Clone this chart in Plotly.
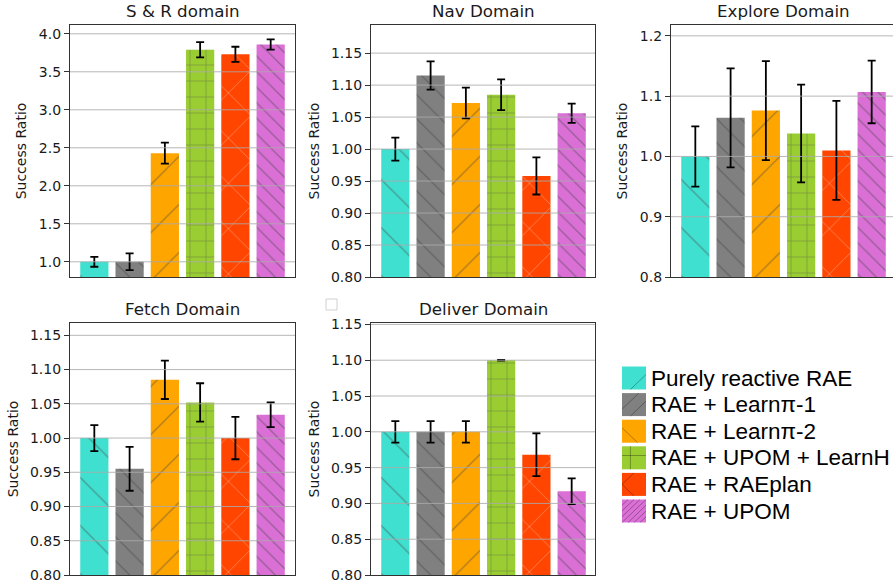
import plotly.graph_objects as go

# ---------------- data ----------------
methods = ["Purely reactive RAE", "RAE + Learnπ-1", "RAE + Learnπ-2",
           "RAE + UPOM + LearnH", "RAE + RAEplan", "RAE + UPOM"]
x_pos = [0, 1, 2, 3, 4, 5]

domain_titles = ["S & R domain", "Nav Domain", "Explore Domain",
                 "Fetch Domain", "Deliver Domain"]

sr_mean = [1.0, 1.0, 2.43, 3.79, 3.73, 3.86]
sr_err = [0.065, 0.11, 0.138, 0.10, 0.10, 0.067]

nav_mean = [1.0, 1.115, 1.072, 1.085, 0.958, 1.056]
nav_err = [0.018, 0.022, 0.024, 0.024, 0.029, 0.015]

explore_mean = [1.0, 1.064, 1.076, 1.038, 1.010, 1.107]
explore_err = [0.050, 0.082, 0.082, 0.081, 0.082, 0.052]

fetch_mean = [1.0, 0.955, 1.085, 1.052, 1.0, 1.034]
fetch_err = [0.019, 0.032, 0.028, 0.028, 0.031, 0.018]

deliver_mean = [1.0, 1.0, 1.0, 1.10, 0.968, 0.917]
deliver_err = [0.015, 0.015, 0.015, 0.0005, 0.030, 0.018]

sr_ticks = [1.0, 1.5, 2.0, 2.5, 3.0, 3.5, 4.0]
sr_ticklabels = ["1.0", "1.5", "2.0", "2.5", "3.0", "3.5", "4.0"]
fine_ticks = [0.80, 0.85, 0.90, 0.95, 1.00, 1.05, 1.10, 1.15]
fine_ticklabels = ["0.80", "0.85", "0.90", "0.95", "1.00", "1.05", "1.10", "1.15"]
explore_ticks = [0.8, 0.9, 1.0, 1.1, 1.2]
explore_ticklabels = ["0.8", "0.9", "1.0", "1.1", "1.2"]

# ---------------- styles ----------------
colors = ["#40E0D0", "#808080", "#FFA500", "#9ACD32", "#FF4500", "#DA70D6"]
hatches = ["\\", "\\", "/", "+", "x", "\\"]
hatch_sizes = [34, 17, 34, 16, 32, 11]

W, H = 893, 586


def px(x):
    return x / W


def py(y):
    return 1 - y / H


panels = [
    dict(mean=sr_mean, err=sr_err, ticks=sr_ticks, labels=sr_ticklabels,
         yr=[0.8, 4.116], cols=(70, 295), rows=(25, 277), title_cx=182.5),
    dict(mean=nav_mean, err=nav_err, ticks=fine_ticks, labels=fine_ticklabels,
         yr=[0.8, 1.194], cols=(371, 595), rows=(25, 277), title_cx=483),
    dict(mean=explore_mean, err=explore_err, ticks=explore_ticks,
         labels=explore_ticklabels, yr=[0.8, 1.218], cols=(671, 893),
         rows=(25, 277), title_cx=783.5),
    dict(mean=fetch_mean, err=fetch_err, ticks=fine_ticks, labels=fine_ticklabels,
         yr=[0.8, 1.168], cols=(70, 295), rows=(323, 575), title_cx=182.5),
    dict(mean=deliver_mean, err=deliver_err, ticks=fine_ticks,
         labels=fine_ticklabels, yr=[0.8, 1.152], cols=(371, 595),
         rows=(323, 575), title_cx=483),
]

unit_px = 225 / 6.38  # pixels per category unit

fig = go.Figure()
shapes = []
annotations = []
layout_axes = {}

for k, p in enumerate(panels):
    idx = "" if k == 0 else str(k + 1)
    xname, yname = "x" + idx, "y" + idx
    solid = [1.3 / s for s in hatch_sizes]
    fig.add_trace(go.Bar(
        x=x_pos, y=p["mean"], width=0.8,
        xaxis=xname, yaxis=yname, showlegend=False,
        marker=dict(color=colors, line=dict(width=0),
                    pattern=dict(shape=hatches, size=hatch_sizes,
                                 solidity=solid, fgcolor="#000000",
                                 fgopacity=0.45)),
        error_y=dict(type="data", array=p["err"], color="black",
                     thickness=1.8, width=4),
        hovertext=methods,
    ))
    l, r = p["cols"]
    t, b = p["rows"]
    xr0 = -0.69
    xr1 = xr0 + (r - l) / unit_px
    is_explore = (k == 2)
    layout_axes["xaxis" + idx] = dict(
        domain=[px(l), px(r)], anchor=yname, range=[xr0, xr1],
        showticklabels=False, ticks="", showgrid=False, zeroline=False,
        showline=True, mirror=True, linecolor="#333333", linewidth=1.2,
        automargin=False,
    )
    layout_axes["yaxis" + idx] = dict(
        domain=[py(b), py(t)], anchor=xname, range=p["yr"],
        tickvals=p["ticks"], ticktext=p["labels"], ticks="outside",
        ticklen=5, tickwidth=1, tickcolor="#333333",
        tickfont=dict(family="DejaVu Sans", size=14, color="#1a1a1a"),
        showgrid=False, zeroline=False, showline=True,
        mirror=(not is_explore), linecolor="#333333", linewidth=1.2,
        automargin=False,
        title=dict(text="Success Ratio", standoff=8,
                   font=dict(family="DejaVu Sans", size=14, color="#1a1a1a")),
    )
    # grid lines drawn above bars, as in the reference
    for tv in p["ticks"]:
        if p["yr"][0] < tv < p["yr"][1]:
            shapes.append(dict(type="line", xref=xname + " domain", yref=yname,
                               x0=0, x1=1, y0=tv, y1=tv, layer="above",
                               line=dict(color="rgba(170,170,170,0.85)", width=1)))
    annotations.append(dict(
        text=domain_titles[k], x=px(p["title_cx"]), y=py(t), xref="paper",
        yref="paper", xanchor="center", yanchor="bottom", yshift=2,
        showarrow=False, font=dict(family="DejaVu Sans", size=16.7, color="#1a1a1a"),
    ))

# manual legend (large patches like the reference)
leg_x0, leg_x1 = 622, 646
leg_y0, leg_dy = 378, 26.6
# faint hatch strokes in the legend patches: (direction, offsets)
legend_hatch = [
    [("/", -0.35)],
    [("/", -0.35), ("/", 0.3)],
    [("\\", 0.65)],
    [("h", 0.6), ("v", 0.35)],
    [("/", 0.5), ("\\", 0.5)],
    [("/", c) for c in (-0.75, -0.5, -0.25, 0.0, 0.25, 0.5, 0.75)],
]


def clip_line(kind, c):
    # returns segment endpoints in unit-square coords (u right, v up)
    if kind == "h":
        return (0, c), (1, c)
    if kind == "v":
        return (c, 0), (c, 1)
    pts = []
    if kind == "/":  # v = u + c
        for u in (0.0, 1.0):
            v = u + c
            if 0 <= v <= 1:
                pts.append((u, v))
        for v in (0.0, 1.0):
            u = v - c
            if 0 <= u <= 1:
                pts.append((u, v))
    else:  # v = -u + c
        for u in (0.0, 1.0):
            v = -u + c
            if 0 <= v <= 1:
                pts.append((u, v))
        for v in (0.0, 1.0):
            u = c - v
            if 0 <= u <= 1:
                pts.append((u, v))
    pts = sorted(set(pts))
    return pts[0], pts[-1]


for i, name in enumerate(methods):
    cy = leg_y0 + i * leg_dy
    top, bot = cy - 11.5, cy + 11.5
    shapes.append(dict(type="rect", xref="paper", yref="paper",
                       x0=px(leg_x0), x1=px(leg_x1), y0=py(bot), y1=py(top),
                       fillcolor=colors[i], line=dict(width=0)))
    for kind, c in legend_hatch[i]:
        (u0, v0), (u1, v1) = clip_line(kind, c)
        shapes.append(dict(
            type="line", xref="paper", yref="paper",
            x0=px(leg_x0 + u0 * (leg_x1 - leg_x0)), y0=py(bot - v0 * (bot - top)),
            x1=px(leg_x0 + u1 * (leg_x1 - leg_x0)), y1=py(bot - v1 * (bot - top)),
            line=dict(color="rgba(0,0,0,0.3)", width=1)))
    annotations.append(dict(
        text=name, x=px(649), y=py(cy), xref="paper", yref="paper",
        xanchor="left", yanchor="middle", showarrow=False,
        font=dict(family="Liberation Sans", size=22.5, color="#000000"),
    ))

# small empty box artifact
shapes.append(dict(type="rect", xref="paper", yref="paper",
                   x0=px(326), x1=px(337), y0=py(310), y1=py(299),
                   line=dict(color="#d0d0d0", width=1), fillcolor="rgba(0,0,0,0)"))

fig.update_layout(
    width=W, height=H, margin=dict(l=0, r=0, t=0, b=0, autoexpand=False),
    paper_bgcolor="white", plot_bgcolor="white",
    shapes=shapes, annotations=annotations, showlegend=False,
    **layout_axes,
)

fig.write_html(
    "out.html",
    config={"displayModeBar": False},
    post_script="document.body.style.margin='0';document.body.style.overflow='hidden';",
)
